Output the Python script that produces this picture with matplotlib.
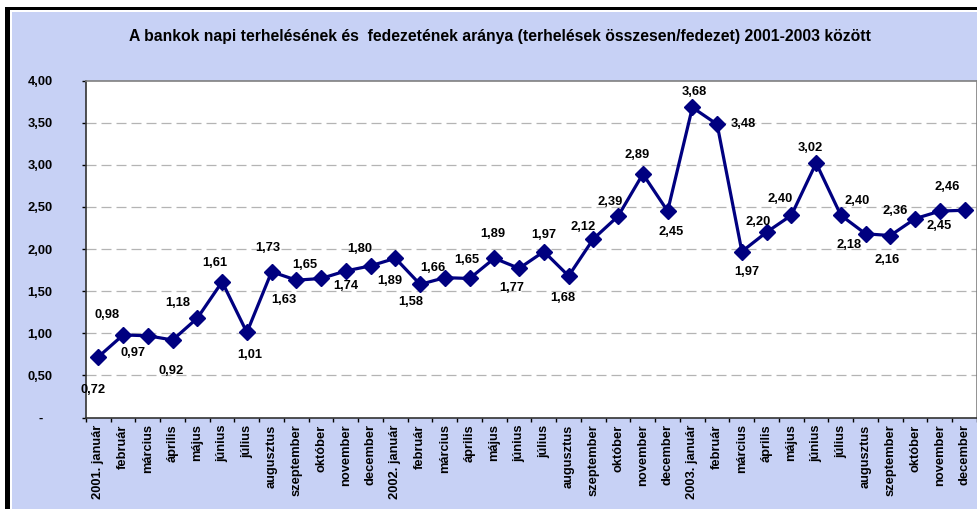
import numpy as np
import matplotlib.pyplot as plt
from matplotlib.patches import Rectangle

plt.rcParams['font.family'] = ['Liberation Sans', 'DejaVu Sans']
plt.rcParams['font.weight'] = 'bold'

title = 'A bankok napi terhelésének és  fedezetének aránya (terhelések összesen/fedezet) 2001-2003 között'

months = ['január', 'február', 'március', 'április', 'május', 'június', 'július',
          'augusztus', 'szeptember', 'október', 'november', 'december']
years = ['2001', '2002', '2003']
labels = []
for y in years:
    for i, m in enumerate(months):
        labels.append('{}. {}'.format(y, m) if i == 0 else m)

ratio = [0.72, 0.98, 0.97, 0.92, 1.18, 1.61, 1.01, 1.73, 1.63, 1.65, 1.74, 1.80,
         1.89, 1.58, 1.66, 1.65, 1.89, 1.77, 1.97, 1.68, 2.12, 2.39, 2.89, 2.45,
         3.68, 3.48, 1.97, 2.20, 2.40, 3.02, 2.40, 2.18, 2.16, 2.36, 2.45, 2.46]

# label offsets in pixels (dx, dy), dy positive = up
offsets = [(-5, -33), (-16, 20), (-15, -17), (-1, -31), (-20, 15), (-7, 19),
           (3, -23), (-4, 24), (-12, -20), (-16, 13), (0, -15), (-11, 17),
           (-6, -23), (-9, -18), (-12, 10), (-3, 18), (-2, 24), (-7, -20),
           (0, 17), (-6, -22), (-10, 12), (-8, 14), (-6, 19), (4, -21),
           (2, 15), (26, 0), (5, -20), (-8, 10), (-11, 16), (-6, 15),
           (16, 14), (-17, -11), (-3, -24), (-20, 8), (-1, -15), (-17, 23)]

fig = plt.figure(figsize=(9.78, 5.09), dpi=100)
W, H = 978, 509

# frame + background
fig.add_artist(Rectangle((12 / W, 0), 1, (H - 12) / H, transform=fig.transFigure,
                         facecolor='#C7D1F5', edgecolor='none', zorder=0))
fig.add_artist(Rectangle((5 / W, 0), 5 / W, (H - 7) / H, transform=fig.transFigure,
                         facecolor='black', edgecolor='none', zorder=1))
fig.add_artist(Rectangle((5 / W, (H - 10) / H), 1, 3 / H, transform=fig.transFigure,
                         facecolor='black', edgecolor='none', zorder=1))

ax = fig.add_axes([86 / W, 91.5 / H, 891 / W, 337 / H])
ax.set_facecolor('white')

x = np.arange(len(ratio))
ax.plot(x, ratio, color='#000080', lw=2.3, marker='D', markersize=8.5, zorder=3)

for xi, v, (dx, dy) in zip(x, ratio, offsets):
    ax.annotate('{:.2f}'.format(v).replace('.', ','), (xi, v), xytext=(dx, dy),
                textcoords='offset pixels', ha='center', va='center',
                fontsize=9.3, fontweight='bold', color='black', zorder=4)

ax.set_xlim(-0.5, len(ratio) - 0.5)
ax.set_ylim(0, 4)

yt = np.arange(0, 4.01, 0.5)
ax.set_yticks(yt)
ax.set_yticklabels(['-'] + ['{:.2f}'.format(v).replace('.', ',') for v in yt[1:]],
                   ha='center', fontsize=9.3, fontweight='bold')
ax.tick_params(axis='y', direction='out', length=3, width=1, pad=30)

ax.set_xticks(x)
ax.set_xticklabels(labels, rotation=90, fontsize=9.3, fontweight='bold')
ax.set_xticks(np.arange(-0.5, len(ratio)), minor=True)
ax.tick_params(axis='x', which='major', length=0, pad=5)
ax.tick_params(axis='x', which='minor', direction='out', length=3, width=1)

for g in yt[1:-1]:
    ax.axhline(g, color='#B4B4B4', lw=0.9, linestyle=(0, (8, 4)), zorder=1)

for s in ['left', 'bottom']:
    ax.spines[s].set_color('#333333')
    ax.spines[s].set_linewidth(1.2)
for s in ['top', 'right']:
    ax.spines[s].set_color('#808080')
    ax.spines[s].set_linewidth(1.2)

fig.text(500 / W, 1 - 36 / H, title, ha='center', va='center',
         fontsize=11.3, fontweight='bold')

fig.savefig('out.png', dpi=100)
